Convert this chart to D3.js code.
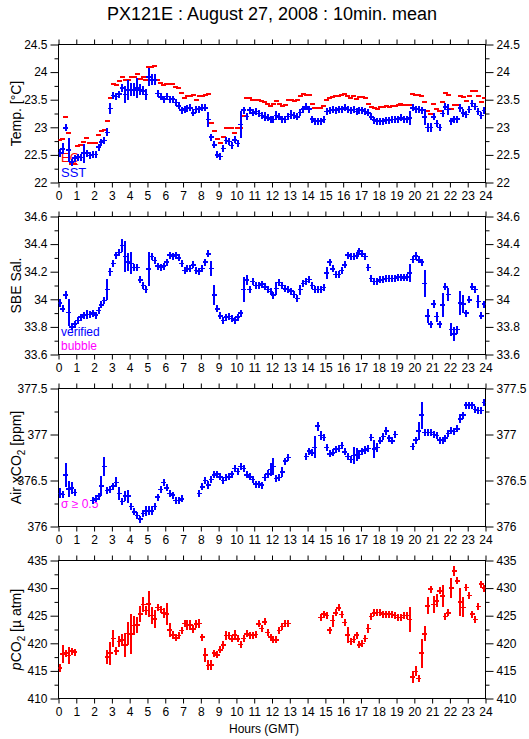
<!DOCTYPE html>
<html><head><meta charset="utf-8">
<script src="https://cdn.jsdelivr.net/npm/d3@7"></script>
<style>
body{margin:0;background:#fff;}
svg text{font-family:"Liberation Sans",Arial,Helvetica,sans-serif;}
</style></head><body>
<svg id="c" width="529" height="739" xmlns="http://www.w3.org/2000/svg"></svg>
<script>
// ---------- data (10-min means, 144 intervals, hour = (k+0.5)/6) ----------
const hours = d3.range(144).map(k => (k + 0.5) / 6);
const hourTicks = d3.range(0, 25);

const sst = [
22.53,22.61,22.99,22.59,22.37,22.44,22.46,22.45,22.53,22.53,22.49,22.51,
22.51,22.64,22.73,22.76,22.91,23.34,23.58,23.56,23.60,23.71,23.59,23.68,
23.68,23.68,23.71,23.68,23.66,23.59,23.91,23.86,23.86,23.61,23.55,23.51,
23.56,23.50,23.51,23.45,23.39,23.31,23.33,23.34,23.35,23.26,23.32,23.33,
23.35,23.35,23.14,22.82,22.68,22.50,22.47,22.62,22.76,22.74,22.67,22.77,
22.71,23.05,23.31,23.20,23.31,23.26,23.29,23.25,23.21,23.19,23.17,23.15,
23.14,23.21,23.19,23.15,23.14,23.20,23.23,23.21,23.19,23.27,23.33,23.37,
23.33,23.15,23.11,23.11,23.11,23.14,23.29,23.30,23.32,23.30,23.33,23.32,
23.35,23.32,23.30,23.32,23.29,23.30,23.31,23.29,23.26,23.19,23.13,23.11,
23.11,23.11,23.13,23.13,23.14,23.14,23.15,23.17,23.15,23.15,23.17,23.35,
23.33,23.32,23.31,23.19,23.00,23.00,23.19,23.07,23.00,23.25,23.37,23.32,
23.11,23.15,23.15,23.35,23.26,23.23,23.32,23.43,23.38,23.29,23.21,23.30];
const sstErr = [
0.075,0.1,0.03,0.21,0.03,0.06,0.03,0.03,0.17,0.05,0.04,0.04,
0.04,0.04,0.05,0.05,0.07,0.1,0.06,0.06,0.06,0.07,0.15,0.18,
0.12,0.12,0.18,0.1,0.08,0.1,0.16,0.1,0.1,0.05,0.04,0.04,
0.05,0.05,0.05,0.04,0.04,0.06,0.06,0.06,0.06,0.05,0.04,0.04,
0.03,0.03,0.13,0.05,0.03,0.04,0.03,0.05,0.04,0.04,0.04,0.06,
0.04,0.24,0.05,0.04,0.05,0.04,0.04,0.04,0.05,0.08,0.05,0.03,
0.03,0.08,0.04,0.03,0.03,0.05,0.08,0.04,0.03,0.04,0.03,0.03,
0.03,0.04,0.02,0.02,0.02,0.02,0.05,0.03,0.02,0.03,0.02,0.02,
0.03,0.02,0.02,0.02,0.02,0.02,0.02,0.02,0.02,0.02,0.02,0.02,
0.02,0.02,0.02,0.02,0.02,0.02,0.02,0.02,0.02,0.02,0.12,0.03,
0.02,0.02,0.02,0.14,0.08,0.08,0.05,0.06,0.02,0.06,0.03,0.1,
0.02,0.05,0.04,0.08,0.08,0.04,0.03,0.03,0.03,0.06,0.03,0.03];
const eqTemp = [
22.77,22.79,23.19,22.90,22.33,22.33,22.67,22.68,22.74,22.80,22.72,22.71,
22.71,22.86,22.94,22.95,23.12,23.53,23.79,23.77,23.83,23.92,23.86,23.86,
23.91,23.91,23.97,23.88,23.91,23.85,24.09,24.09,24.11,23.86,23.80,23.77,
23.79,23.79,23.79,23.73,23.71,23.63,23.53,23.57,23.57,23.59,23.50,23.56,
23.57,23.59,23.61,23.08,22.94,22.79,22.71,22.82,22.99,22.99,22.99,22.90,
22.99,22.99,23.21,23.53,23.53,23.50,23.50,23.49,23.47,23.45,23.43,23.39,
23.43,23.48,23.43,23.39,23.41,23.50,23.49,23.47,23.50,23.57,23.61,23.59,
23.59,23.43,23.35,23.35,23.35,23.39,23.50,23.53,23.54,23.57,23.57,23.59,
23.61,23.57,23.53,23.56,23.51,23.55,23.55,23.53,23.43,23.37,23.35,23.33,
23.36,23.36,23.39,23.37,23.39,23.39,23.41,23.43,23.41,23.41,23.41,23.61,
23.59,23.59,23.57,23.45,23.29,23.25,23.43,23.33,23.29,23.45,23.63,23.59,
23.33,23.41,23.41,23.57,23.54,23.47,23.56,23.66,23.66,23.56,23.45,23.53];

const sal = [
33.975,33.93,34.03,33.905,33.80,33.82,33.845,33.87,33.885,33.89,33.89,33.90,
33.885,33.92,33.96,33.99,34.07,34.20,34.26,34.32,34.34,34.39,34.31,34.27,
34.26,34.23,34.23,34.14,34.10,34.07,34.22,34.31,34.28,34.24,34.23,34.24,
34.27,34.32,34.31,34.32,34.30,34.26,34.21,34.22,34.225,34.25,34.21,34.205,
34.225,34.27,34.33,34.225,34.03,33.93,33.88,33.845,33.87,33.875,33.86,33.85,
33.87,33.90,34.07,34.14,34.07,34.13,34.10,34.10,34.11,34.09,34.07,34.055,
34.03,34.08,34.12,34.10,34.075,34.07,34.06,34.035,34.005,34.07,34.115,34.13,
34.145,34.10,34.07,34.07,34.07,34.085,34.19,34.27,34.22,34.18,34.18,34.21,
34.25,34.32,34.31,34.31,34.315,34.35,34.33,34.31,34.23,34.15,34.13,34.13,
34.14,34.145,34.15,34.15,34.15,34.15,34.16,34.16,34.155,34.16,34.19,34.29,
34.315,34.285,34.27,34.115,33.88,33.82,33.965,33.875,33.82,33.96,34.09,34.035,
33.78,33.75,33.78,33.975,33.965,33.90,33.995,34.09,34.07,33.985,33.88,33.965];
const salErr = [
0.03,0.01,0.03,0.1,0.01,0.015,0.015,0.01,0.015,0.03,0.01,0.015,
0.01,0.02,0.015,0.015,0.075,0.03,0.02,0.02,0.02,0.045,0.11,0.067,
0.08,0.02,0.02,0.02,0.015,0.015,0.12,0.025,0.015,0.01,0.01,0.01,
0.015,0.015,0.01,0.01,0.01,0.015,0.015,0.01,0.01,0.015,0.01,0.01,
0.01,0.015,0.015,0.055,0.073,0.01,0.02,0.01,0.01,0.01,0.01,0.01,
0.01,0.015,0.09,0.036,0.02,0.015,0.02,0.01,0.015,0.01,0.01,0.01,
0.01,0.048,0.01,0.01,0.01,0.01,0.015,0.01,0.01,0.036,0.01,0.01,
0.01,0.015,0.01,0.01,0.01,0.01,0.042,0.02,0.015,0.01,0.01,0.015,
0.015,0.02,0.01,0.01,0.02,0.01,0.015,0.01,0.02,0.015,0.01,0.01,
0.01,0.01,0.01,0.01,0.01,0.01,0.01,0.01,0.01,0.01,0.064,0.015,
0.03,0.01,0.025,0.1,0.052,0.01,0.03,0.036,0.005,0.085,0.02,0.048,
0.048,0.05,0.03,0.088,0.067,0.015,0.02,0.02,0.015,0.048,0.01,0.02];

const airCO2 = [
376.36,376.35,376.56,376.41,376.42,376.37,null,null,null,null,null,376.28,
376.30,376.33,376.44,376.65,376.39,376.40,376.44,376.48,376.36,376.27,376.33,376.33,
376.22,376.16,376.12,376.08,376.14,376.17,376.17,376.17,376.22,376.32,376.40,376.48,
376.42,376.36,376.34,376.28,376.28,376.30,null,null,null,null,null,376.36,
376.43,376.50,376.45,376.51,376.56,376.57,376.54,376.50,376.53,376.54,376.57,376.63,
376.60,376.65,376.63,376.56,376.54,376.51,376.46,376.46,376.45,376.53,376.57,376.62,
376.65,376.52,376.53,376.59,376.71,376.75,null,null,null,null,null,376.76,
376.82,376.80,376.86,377.09,376.99,376.97,376.86,376.79,376.80,376.84,376.85,376.88,
376.81,376.76,376.73,376.77,376.78,376.78,376.82,376.83,376.85,376.97,376.84,376.86,
376.93,376.98,377.04,376.96,376.93,377.00,null,null,null,null,null,376.87,
376.94,377.04,377.21,377.02,377.02,377.02,377.00,376.99,376.94,376.94,376.96,377.01,
377.04,377.03,377.06,377.17,377.21,377.32,377.32,377.32,377.27,377.26,377.26,377.35];
const airErr = [
0.055,0.02,0.13,0.09,0.064,0.03,0,0,0,0,0,0.02,
0.03,0.02,0.11,0.105,0.02,0.02,0.03,0.055,0.07,0.02,0.055,0.07,
0.03,0.02,0.03,0.02,0.03,0.055,0.05,0.05,0.04,0.03,0.04,0.04,
0.03,0.03,0.02,0.02,0.02,0.02,0,0,0,0,0,0.02,
0.03,0.04,0.04,0.03,0.02,0.035,0.02,0.02,0.03,0.02,0.03,0.02,
0.02,0.03,0.02,0.03,0.02,0.03,0.02,0.02,0.03,0.03,0.04,0.07,
0.09,0.02,0.02,0.055,0.03,0.03,0,0,0,0,0,0.02,
0.03,0.03,0.12,0.05,0.05,0.04,0.04,0.03,0.02,0.03,0.03,0.03,
0.02,0.02,0.035,0.09,0.07,0.05,0.03,0.04,0.03,0.03,0.1,0.05,
0.02,0.02,0.04,0.03,0.02,0.02,0,0,0,0,0,0.03,
0.03,0.1,0.145,0.02,0.03,0.02,0.02,0.02,0.02,0.03,0.02,0.02,
0.03,0.02,0.02,0.05,0.03,0.03,0.02,0.02,0.03,0.02,0.04,0.04];

const pco2 = [
415.5,418.1,418.2,417.8,418.6,418.4,null,null,null,null,null,null,
null,null,null,null,417.5,418.2,420.9,418.6,420.3,420.6,419.7,421.8,
421.7,423.2,423.3,425.3,427.0,425.9,427.1,425.0,424.4,426.5,426.1,425.5,
425.3,422.4,421.5,421.0,421.4,422.3,423.6,423.3,423.3,422.6,423.5,423.6,
421.1,417.9,416.0,416.1,418.2,417.9,418.8,419.7,421.4,421.4,420.8,421.5,
420.8,419.8,420.9,421.7,421.5,421.5,421.6,423.5,422.7,423.9,422.0,421.1,
420.7,420.6,422.3,423.0,423.6,423.6,null,null,null,null,null,null,
null,null,null,null,424.7,425.3,425.0,422.4,424.1,425.5,426.4,425.2,
423.8,421.5,420.3,420.7,421.5,419.7,420.0,420.9,422.7,424.9,425.5,425.6,
425.6,425.3,425.2,425.3,425.2,425.0,424.7,424.7,425.0,425.0,424.3,413.9,
414.9,413.6,418.2,421.7,426.8,429.8,427.0,427.7,429.5,428.6,424.9,425.5,
430.0,433.1,431.3,427.5,426.5,430.1,428.7,425.3,424.3,426.7,430.7,430.0];
const pco2Err = [
0.75,1.6,0.5,1.5,0.5,0.4,0,0,0,0,0,0,
0,0,0,0,1.2,2.1,1.6,0.8,1.0,1.0,2.1,2.1,
3.6,1.7,1.5,1.5,1.4,0.8,2.3,1.5,1.7,0.6,0.6,0.9,
2.0,1.2,0.7,0.6,0.7,0.7,0.5,0.9,0.9,0.8,0.8,0.8,
0.3,1.2,0.9,0.9,0.5,0.6,0.6,0.8,0.8,0.7,0.6,0.9,
0.4,0.5,0.5,0.5,0.3,0.3,0.6,0.6,0.6,0.6,0.6,0.4,
0.3,0.3,0.6,0.4,0.3,0.3,0,0,0,0,0,0,
0,0,0,0,0.2,0.3,0.3,0.4,1.1,0.3,0.4,0.5,
0.4,1.5,0.5,0.4,0.3,0.4,0.4,0.4,0.8,0.5,0.3,0.2,
0.2,0.2,0.2,0.2,0.2,0.2,0.2,0.2,0.2,0.2,2.2,1.05,
0.9,0.2,2.65,1.35,1.5,0.6,1.5,1.2,0.4,2.0,0.3,0.5,
1.8,0.9,0.5,2.6,1.8,0.3,0.6,0.6,0.5,0.6,0.4,0.5];

const tempTicks = [22, 22.5, 23, 23.5, 24, 24.5];
const salTicks = [33.6, 33.8, 34, 34.2, 34.4, 34.6];
const airTicks = [376, 376.5, 377, 377.5];
const pco2Ticks = [410, 415, 420, 425, 430, 435];

// ---------- layout ----------
const BLUE = "#0000ff", RED = "#ff0000", MAG = "#ff00ff";
const L = 58.5, R = 485.5, PH = 138;
const tops = [44.5, 216.5, 388.5, 560.5];
const svg = d3.select("#c");
const x = d3.scaleLinear().domain([0, 24]).range([L, R]);

svg.append("text").attr("x", 272).attr("y", 20).attr("text-anchor", "middle")
  .attr("font-size", 18).text("PX121E : August 27, 2008 : 10min. mean");

function halfSteps(t) {
  const out = [];
  for (let i = 0; i < t.length - 1; i++) out.push((t[i] + t[i + 1]) / 2);
  return out;
}

function panel(idx, domain, ticks, series, legend, labelParts) {
  const top = tops[idx], bot = top + PH;
  const y = d3.scaleLinear().domain(domain).range([bot, top]);
  const g = svg.append("g");
  const clipId = "clip" + idx;
  svg.append("clipPath").attr("id", clipId).append("rect")
    .attr("x", L).attr("y", top).attr("width", R - L).attr("height", PH);

  const fmt = d3.format("");
  const style = s => s.call(a => a.select(".domain").remove())
    .attr("font-size", 12).attr("font-family", null)
    .call(a => a.selectAll("line").attr("stroke", "#000"))
    .call(a => a.selectAll("text").attr("fill", "#000"));
  g.append("g").attr("transform", `translate(${L},0)`)
    .call(d3.axisLeft(y).tickValues(ticks).tickSize(8).tickPadding(3).tickFormat(fmt)).call(style);
  g.append("g").attr("transform", `translate(${L},0)`)
    .call(d3.axisLeft(y).tickValues(halfSteps(ticks)).tickSize(4).tickFormat("")).call(style);
  g.append("g").attr("transform", `translate(${R},0)`)
    .call(d3.axisRight(y).tickValues(ticks).tickSize(8).tickPadding(3).tickFormat(fmt)).call(style);
  g.append("g").attr("transform", `translate(${R},0)`)
    .call(d3.axisRight(y).tickValues(halfSteps(ticks)).tickSize(4).tickFormat("")).call(style);
  g.append("g").attr("transform", `translate(0,${top})`)
    .call(d3.axisTop(x).tickValues(hourTicks).tickSize(5).tickFormat("")).call(style);
  g.append("g").attr("transform", `translate(0,${bot})`)
    .call(d3.axisBottom(x).tickValues(hourTicks).tickSize(5).tickPadding(4).tickFormat(fmt)).call(style);

  g.append("rect").attr("x", L).attr("y", top).attr("width", R - L).attr("height", PH)
    .attr("fill", "none").attr("stroke", "#000").attr("stroke-width", 1);

  const lab = g.append("text").attr("transform", `translate(21,${top + PH / 2}) rotate(-90)`)
    .attr("text-anchor", "middle").attr("font-size", 14);
  labelParts.forEach(p => {
    const t = lab.append("tspan").text(p.t);
    if (p.italic) t.attr("font-style", "italic");
    if (p.sub) t.attr("font-size", 10).attr("dy", 4);
    if (p.after) t.attr("dy", -4);
  });

  legend.forEach(l => g.append("text").attr("x", 61).attr("y", l.y).attr("fill", l.c)
    .attr("font-size", l.fs || 12).text(l.t));

  const dg = g.append("g").attr("clip-path", `url(#${clipId})`).attr("shape-rendering", "crispEdges");
  series.forEach(s => {
    const pts = hours.map((h, i) => ({ h, v: s.v[i], e: s.e ? s.e[i] : 0 }))
      .filter(d => d.v != null);
    if (s.type === "dash") {
      dg.append("g").selectAll("line").data(pts).join("line")
        .attr("x1", d => x(d.h) - 2.5).attr("x2", d => x(d.h) + 2.5)
        .attr("y1", d => y(d.v)).attr("y2", d => y(d.v))
        .attr("stroke", s.c).attr("stroke-width", 2);
    } else {
      const cg = dg.append("g").attr("stroke", s.c);
      cg.selectAll("line.v").data(pts).join("line").attr("class", "v")
        .attr("x1", d => x(d.h)).attr("x2", d => x(d.h))
        .attr("y1", d => Math.min(y(d.v + d.e), y(d.v) - 3.5))
        .attr("y2", d => Math.max(y(d.v - d.e), y(d.v) + 3.5))
        .attr("stroke-width", 2);
      cg.selectAll("line.h").data(pts).join("line").attr("class", "h")
        .attr("x1", d => x(d.h) - 2.5).attr("x2", d => x(d.h) + 2.5)
        .attr("y1", d => y(d.v)).attr("y2", d => y(d.v))
        .attr("stroke-width", 1.5);
    }
  });
  return y;
}

panel(0, [22, 24.5], tempTicks,
  [{ v: eqTemp, c: RED, type: "dash" }, { v: sst, e: sstErr, c: BLUE, type: "cross" }],
  [{ t: "EQ", y: 162, c: RED, fs: 13 }, { t: "SST", y: 177, c: BLUE, fs: 13 }],
  [{ t: "Temp. [°C]" }]);

panel(1, [33.6, 34.6], salTicks,
  [{ v: sal, e: salErr, c: BLUE, type: "cross" }],
  [{ t: "verified", y: 335.5, c: BLUE }, { t: "bubble", y: 349.5, c: MAG }],
  [{ t: "SBE Sal." }]);

panel(2, [376, 377.5], airTicks,
  [{ v: airCO2, e: airErr, c: BLUE, type: "cross" }],
  [{ t: "σ ≥ 0.5", y: 508, c: MAG }],
  [{ t: "Air xCO" }, { t: "2", sub: true }, { t: " [ppm]", after: true }]);

panel(3, [410, 435], pco2Ticks,
  [{ v: pco2, e: pco2Err, c: RED, type: "cross" }],
  [],
  [{ t: "p", italic: true }, { t: "CO" }, { t: "2", sub: true }, { t: " [µ atm]", after: true }]);

svg.append("text").attr("x", 264).attr("y", 733).attr("text-anchor", "middle")
  .attr("font-size", 12).text("Hours (GMT)");
</script>
</body></html>
